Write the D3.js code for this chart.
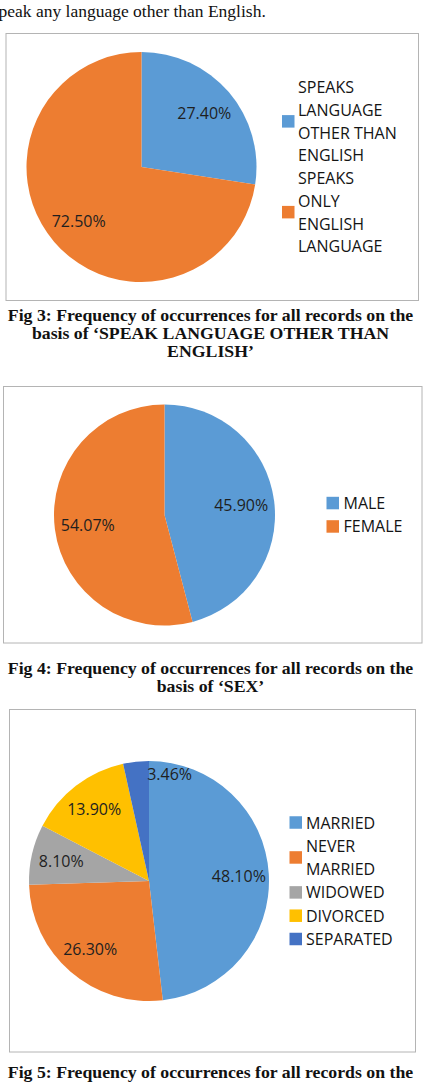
<!DOCTYPE html>
<html>
<head>
<meta charset="utf-8">
<script src="https://cdnjs.cloudflare.com/ajax/libs/d3/7.8.5/d3.min.js"></script>
<style>
  body { margin: 0; background: #fff; }
  svg { display: block; }
</style>
</head>
<body>
<svg width="429" height="1086"></svg>
<script>
// chart data
let langCategories = ["SPEAKS\nLANGUAGE\nOTHER THAN\nENGLISH", "SPEAKS\nONLY\nENGLISH\nLANGUAGE"]
let langValues = [27.4, 72.5]

let sexCategories = ["MALE", "FEMALE"]
let sexValues = [45.9, 54.07]

let maritalCategories = ["MARRIED", "NEVER\nMARRIED", "WIDOWED", "DIVORCED", "SEPARATED"]
let maritalValues = [48.1, 26.3, 8.1, 13.9, 3.46]

let palette = ["#5B9BD5", "#ED7D31", "#A5A5A5", "#FFC000", "#4472C4"]

let captions = [
  {y: 315, lines: ["Fig 3: Frequency of occurrences for all records on the", "basis of \u2018SPEAK LANGUAGE OTHER THAN", "ENGLISH\u2019"]},
  {y: 668.5, lines: ["Fig 4: Frequency of occurrences for all records on the", "basis of \u2018SEX\u2019"]},
  {y: 1072, lines: ["Fig 5: Frequency of occurrences for all records on the"]}
]

let svg = d3.select("svg")
let fmt = d3.format(".2f")
let chartFont = "'Open Sans', sans-serif"
let serif = "'Liberation Serif', 'Times New Roman', serif"

svg.append("text")
    .attr("x", -1.5)
    .attr("y", 17)
    .style("font-family", serif)
    .style("font-size", "17.5px")
    .style("fill", "#111")
    .text("peak any language other than English.")

let drawPie = (cfg) => {
  let data = cfg.categories.map((c, i) => ({name: c, value: cfg.values[i]}))
  let color = d3.scaleOrdinal().domain(cfg.categories).range(palette)

  svg.append("rect")
      .attr("x", cfg.box[0] + 0.5)
      .attr("y", cfg.box[1] + 0.5)
      .attr("width", cfg.box[2])
      .attr("height", cfg.box[3])
      .style("fill", "#fff")
      .style("stroke", "#b4b4b4")
      .style("stroke-width", 1)

  let g = svg.append("g")
      .attr("transform", `translate(${cfg.cx},${cfg.cy})`)

  let arcs = d3.pie().sort(null).value(d => d.value)(data)
  let arc = d3.arc().innerRadius(0).outerRadius(cfg.r)

  g.selectAll("path")
    .data(arcs)
    .enter()
    .append("path")
      .attr("d", arc)
      .style("fill", d => color(d.data.name))

  // data labels, small slices get pushed out next to their edge
  g.selectAll("text.lbl")
    .data(arcs)
    .enter()
    .append("text")
      .attr("class", "lbl")
      .each(function(d) {
        let a = (d.startAngle + d.endAngle) / 2, k = cfg.labelK
        if (d.endAngle - d.startAngle < 0.3) { a = d.endAngle + 0.19; k = 0.91 }
        d3.select(this)
          .attr("x", Math.sin(a) * k * cfg.r)
          .attr("y", -Math.cos(a) * k * cfg.r)
      })
      .attr("dy", "0.36em")
      .attr("text-anchor", "middle")
      .style("font-family", chartFont)
      .style("font-size", "16px")
      .style("fill", "#1f1f1f")
      .text(d => fmt(d.data.value) + "%")

  // legend
  let lineH = cfg.lineH
  let total = d3.sum(data, d => d.name.split("\n").length)
  let y0 = cfg.cy - total * lineH / 2
  let leg = svg.append("g")
  data.forEach(d => {
    let lines = d.name.split("\n")
    let mid = y0 + lines.length * lineH / 2
    leg.append("rect")
        .attr("x", cfg.legX)
        .attr("y", mid - 6.5)
        .attr("width", 12.5)
        .attr("height", 12.5)
        .style("fill", color(d.name))
    lines.forEach((t, j) => {
      leg.append("text")
          .attr("x", cfg.legX + cfg.legGap)
          .attr("y", y0 + (j + 0.5) * lineH)
          .attr("dy", "0.36em")
          .style("font-family", chartFont)
          .style("font-size", "16px")
          .style("fill", "#141414")
          .text(t)
    })
    y0 += lines.length * lineH
  })
}

drawPie({categories: langCategories, values: langValues,
  box: [5.5, 33, 412.5, 267], cx: 141.5, cy: 167, r: 115, labelK: 0.72,
  legX: 282, legGap: 16, lineH: 22.7})

drawPie({categories: sexCategories, values: sexValues,
  box: [3, 386, 418.5, 256.5], cx: 164.5, cy: 515, r: 110.5, labelK: 0.7,
  legX: 326.5, legGap: 17, lineH: 23.4})

drawPie({categories: maritalCategories, values: maritalValues,
  box: [9, 709, 406, 342.5], cx: 149, cy: 881, r: 120, labelK: 0.75,
  legX: 289.5, legGap: 16.5, lineH: 23.3})

// captions: slightly widened bold serif
captions.forEach(c => {
  c.lines.forEach((t, i) => {
    svg.append("text")
        .attr("transform", `translate(210.5,${c.y + i * 18})scale(1.11,1)`)
        .attr("dy", "0.35em")
        .attr("text-anchor", "middle")
        .style("font-family", serif)
        .style("font-weight", "bold")
        .style("font-size", "16px")
        .style("fill", "#111")
        .text(t)
  })
})
</script>
</body>
</html>
